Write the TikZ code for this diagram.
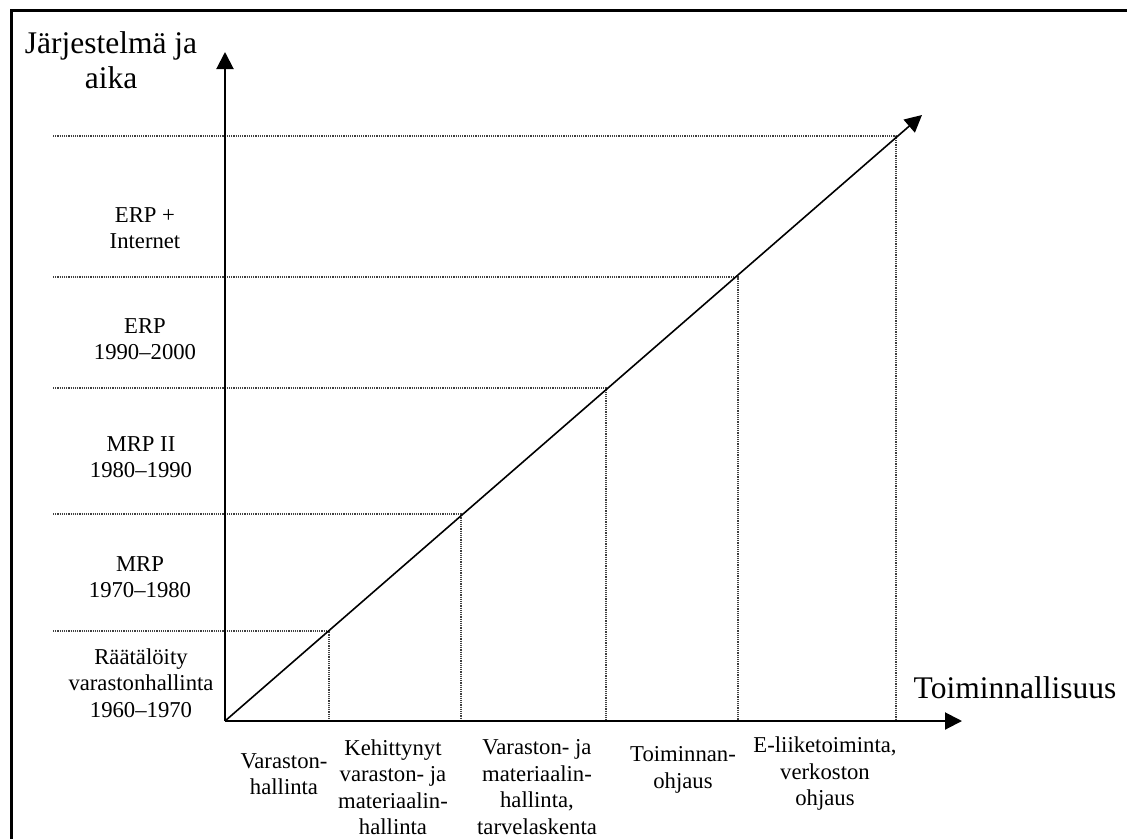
\documentclass[tikz,border=0pt]{standalone}
\usepackage{fontspec}
\setmainfont{Liberation Serif}
\usetikzlibrary{arrows.meta}
\begin{document}
\begin{tikzpicture}[x=1pt,y=-1pt,
  lbl/.style={align=center,inner sep=0pt,font=\fontsize{22.7}{26.5}\selectfont},
  big/.style={align=center,inner sep=0pt,font=\fontsize{31.5}{35}\selectfont},
  axis/.style={line width=2pt,-{Triangle[length=17pt,width=17pt]}},
  guide/.style={line width=1.1pt,black!75,dash pattern=on 1.1pt off 1.1pt}]
\useasboundingbox (0,0) rectangle (1127,839);
\fill[white] (0,0) rectangle (1127,839);
% frame
\draw[line width=3pt] (11,839) -- (11,10) -- (1127,10);
% axes
\coordinate (O) at (225,721);
\coordinate (ytip) at (225,52);
\coordinate (xtip) at (962,721);
\coordinate (dtip) at (922,115);
% guide points
\coordinate (p1) at (329,631);
\coordinate (p2) at (461,514);
\coordinate (p3) at (606,388);
\coordinate (p4) at (738,277);
\coordinate (p5) at (896,136);
\foreach \i in {1,...,5}{
  \draw[guide] (53,0 |- p\i) -- (p\i) -- (p\i |- O);
}
\draw[axis] (O) -- (ytip);
\draw[axis] (O) -- (xtip);
\draw[line width=1.6pt,-{Triangle[length=17pt,width=17pt]}] (O) -- (dtip);
% labels
\node[big] (title) at (111,60) {Järjestelmä ja\\aika};
\node[big,anchor=center] (xl) at (1015,688) {Toiminnallisuus};
\node[lbl] (l5) at (145,228) {ERP +\\Internet};
\node[lbl] (l4) at (145,339) {ERP\\1990–2000};
\node[lbl] (l3) at (141,457) {MRP II\\1980–1990};
\node[lbl] (l2) at (140,577) {MRP\\1970–1980};
\node[lbl] (l1) at (141,683) {Räätälöity\\varastonhallinta\\1960–1970};
\node[lbl] (b1) at (284,774) {Varaston-\\hallinta};
\node[lbl] (b2) at (393,787) {Kehittynyt\\varaston- ja\\materiaalin-\\hallinta};
\node[lbl] (b3) at (537,787) {Varaston- ja\\materiaalin-\\hallinta,\\tarvelaskenta};
\node[lbl] (b4) at (683,770) {Toiminnan-\\ohjaus};
\node[lbl] (b5) at (825,774) {E-liiketoiminta,\\verkoston\\ohjaus};
\end{tikzpicture}
\end{document}
